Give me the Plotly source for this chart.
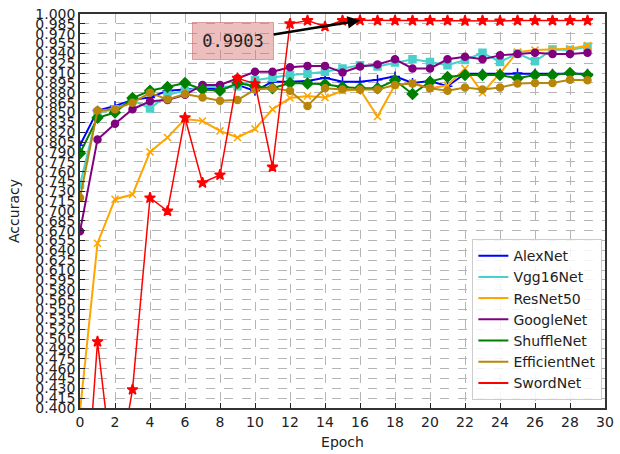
import plotly.graph_objects as go

epochs = list(range(30))

alexnet = [0.800, 0.853, 0.860, 0.869, 0.873, 0.883, 0.885, 0.887, 0.885, 0.892,
           0.883, 0.897, 0.897, 0.898, 0.903, 0.897, 0.897, 0.900, 0.905, 0.895,
           0.898, 0.890, 0.909, 0.909, 0.909, 0.910, 0.909, 0.909, 0.909, 0.909]
vgg16net = [0.740, 0.850, 0.855, 0.869, 0.856, 0.877, 0.883, 0.889, 0.889, 0.890,
            0.899, 0.903, 0.907, 0.909, 0.912, 0.917, 0.922, 0.920, 0.926, 0.931,
            0.927, 0.922, 0.930, 0.941, 0.927, 0.940, 0.928, 0.946, 0.945, 0.950]
resnet50 = [0.395, 0.651, 0.718, 0.725, 0.790, 0.812, 0.840, 0.837, 0.822, 0.812,
            0.825, 0.855, 0.872, 0.875, 0.873, 0.883, 0.885, 0.844, 0.892, 0.895,
            0.887, 0.891, 0.917, 0.880, 0.910, 0.942, 0.945, 0.946, 0.947, 0.952]
googlenet = [0.669, 0.809, 0.833, 0.855, 0.867, 0.869, 0.877, 0.892, 0.892, 0.902,
             0.912, 0.912, 0.919, 0.921, 0.921, 0.911, 0.920, 0.923, 0.931, 0.917,
             0.917, 0.931, 0.935, 0.931, 0.937, 0.939, 0.941, 0.939, 0.939, 0.941]
shufflenet = [0.788, 0.842, 0.850, 0.872, 0.883, 0.889, 0.895, 0.885, 0.883, 0.895,
              0.890, 0.887, 0.895, 0.894, 0.893, 0.889, 0.887, 0.887, 0.899, 0.878,
              0.897, 0.904, 0.907, 0.907, 0.907, 0.902, 0.907, 0.907, 0.910, 0.907]
efficientnet = [0.720, 0.853, 0.855, 0.865, 0.880, 0.870, 0.878, 0.873, 0.868, 0.869,
                0.885, 0.887, 0.883, 0.860, 0.887, 0.885, 0.885, 0.885, 0.892, 0.894,
                0.887, 0.883, 0.888, 0.885, 0.888, 0.894, 0.895, 0.895, 0.900, 0.899]
swordnet = [0.130, 0.501, 0.275, 0.428, 0.720, 0.700, 0.842, 0.743, 0.755, 0.902,
            0.894, 0.767, 0.985, 0.990, 0.981, 0.990, 0.9903, 0.9901, 0.9900, 0.9901,
            0.9900, 0.9901, 0.9895, 0.9900, 0.9895, 0.9900, 0.9900, 0.9900, 0.9900, 0.9900]

best_epoch = 16
best_label = "0.9903"

series = [
    ("AlexNet", alexnet, "#0000ff", "cross-thin-open", 7, 2),
    ("Vgg16Net", vgg16net, "#48d1cc", "square", 7, 2),
    ("ResNet50", resnet50, "#ffa500", "x-thin-open", 7, 2),
    ("GoogleNet", googlenet, "#800080", "circle", 7, 2),
    ("ShuffleNet", shufflenet, "#008000", "diamond", 8, 2),
    ("EfficientNet", efficientnet, "#b8860b", "circle", 7, 2),
    ("SwordNet", swordnet, "#ff0000", "star", 8, 1.5),
]

fig = go.Figure()
for name, vals, color, symbol, msize, lw in series:
    # data curve with markers
    fig.add_trace(go.Scatter(
        x=epochs, y=vals, name=name, mode="lines+markers", showlegend=False,
        legendgroup=name,
        line=dict(color=color, width=lw),
        marker=dict(symbol=symbol, size=msize, color=color,
                    line=dict(color=color, width=1.5)),
    ))
    # legend key drawn as a plain line sample
    fig.add_trace(go.Scatter(
        x=[None], y=[None], name=name, mode="lines", legendgroup=name,
        line=dict(color=color, width=2),
    ))

fig.add_annotation(
    x=best_epoch, y=swordnet[best_epoch], xref="x", yref="y",
    ax=8.75, ay=0.9585, axref="x", ayref="y",
    text=best_label, showarrow=True,
    arrowhead=2, arrowsize=1, arrowwidth=2.5, arrowcolor="black",
    font=dict(family="DejaVu Sans Mono", size=17, color="#222"),
    bgcolor="rgba(215,110,110,0.45)", bordercolor="rgba(200,110,110,0.6)",
    borderwidth=1, borderpad=8, width=64, height=20,
)

axis_common = dict(
    showline=True, linecolor="#333", linewidth=1.5, mirror=True,
    ticks="inside", ticklen=5, tickcolor="#222",
    showgrid=True, gridcolor="#b5b5b5", griddash="dash", gridwidth=1,
    zeroline=False, tickfont=dict(size=14, color="#222"),
    ticklabeloverflow="allow",
)

fig.update_xaxes(range=[0, 30], tick0=0, dtick=2,
                 title=dict(text="Epoch", font=dict(size=14, color="#222"), standoff=9),
                 **axis_common)
fig.update_yaxes(range=[0.4, 1.0], tick0=0.4, dtick=0.015, tickformat=".3f",
                 title=dict(text="Accuracy", font=dict(size=14, color="#222"), standoff=12),
                 **axis_common)

fig.update_layout(
    width=620, height=454,
    margin=dict(l=80, r=6, t=10, b=46),
    paper_bgcolor="white", plot_bgcolor="white",
    font=dict(family="DejaVu Sans", color="#222"),
    legend=dict(
        x=0.995, y=0.02, xanchor="right", yanchor="bottom",
        bgcolor="rgba(255,255,255,0.85)", bordercolor="#cccccc", borderwidth=1,
        font=dict(size=14), tracegroupgap=0,
    ),
)

fig.write_html("out.html")
